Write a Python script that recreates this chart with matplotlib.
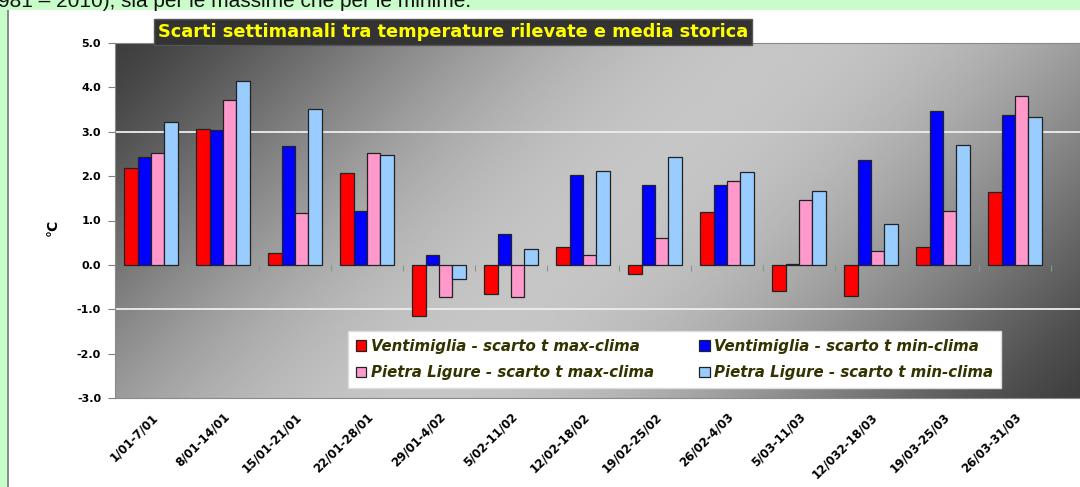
import numpy as np
import matplotlib.pyplot as plt
from matplotlib.colors import LinearSegmentedColormap
from matplotlib.patches import Rectangle

# weekly periods
weeks = ["1/01-7/01", "8/01-14/01", "15/01-21/01", "22/01-28/01", "29/01-4/02",
         "5/02-11/02", "12/02-18/02", "19/02-25/02", "26/02-4/03", "5/03-11/03",
         "12/032-18/03", "19/03-25/03", "26/03-31/03"]

# deviations from climate (°C)
vent_max = [2.19, 3.06, 0.26, 2.07, -1.16, -0.66, 0.40, -0.20, 1.19, -0.58, -0.71, 0.40, 1.64]
vent_min = [2.42, 3.03, 2.69, 1.22, 0.23, 0.69, 2.02, 1.79, 1.79, 0.03, 2.36, 3.46, 3.38]
pl_max = [2.53, 3.72, 1.16, 2.51, -0.72, -0.72, 0.23, 0.61, 1.88, 1.47, 0.32, 1.22, 3.80]
pl_min = [3.22, 4.15, 3.52, 2.48, -0.32, 0.35, 2.12, 2.43, 2.10, 1.67, 0.92, 2.71, 3.34]

series_names = ["Ventimiglia - scarto t max-clima", "Ventimiglia - scarto t min-clima",
                "Pietra Ligure - scarto t max-clima", "Pietra Ligure - scarto t min-clima"]
series_colors = ["#ff0000", "#0000ff", "#ff99cc", "#99ccff"]

yticks = [-3, -2, -1, 0, 1, 2, 3, 4, 5]
grid_levels = [3.0, -1.0]

W, H = 1080, 487
fig = plt.figure(figsize=(W / 100, H / 100), dpi=100)
fig.patch.set_facecolor("white")

# page decoration: green band on top and left, grey rule
fig.patches.append(Rectangle((0, 1 - 10 / H), 1, 10 / H, transform=fig.transFigure,
                             facecolor="#c8fcc8", edgecolor="none", zorder=0))
fig.patches.append(Rectangle((0, 0), 7 / W, 1, transform=fig.transFigure,
                             facecolor="#c8fcc8", edgecolor="none", zorder=0))
fig.patches.append(Rectangle((7 / W, 0), 2 / W, 1 - 10 / H, transform=fig.transFigure,
                             facecolor="#8c8c8c", edgecolor="none", zorder=1))
fig.text(-2 / W, 1 - 7 / H, "981 \u2013 2010), sia per le massime che per le minime.",
         family="Liberation Sans", fontsize=15, color="#111111", va="baseline", ha="left")

ax = fig.add_axes([115 / W, 1 - 398 / H, (1090 - 115) / W, (398 - 43) / H])

# gradient plot background
gw, gh = 400, 150
xx, yy = np.meshgrid(np.linspace(0, 1, gw), np.linspace(0, 1, gh))
t = (xx * 975 + yy * 355) / (975 + 355)
v = np.sin(np.pi * t) ** 1.3
cmap = LinearSegmentedColormap.from_list("bg", ["#3e3e3e", "#c6c6c6"])
ax.imshow(v, cmap=cmap, extent=(0, 1, 0, 1), transform=ax.transAxes,
          aspect="auto", origin="upper", zorder=0, interpolation="bicubic")

x = np.arange(1, len(weeks) + 1)
bw = 0.185
bars = []
for i, (vals, c, name) in enumerate(zip([vent_max, vent_min, pl_max, pl_min], series_colors, series_names)):
    b = ax.bar(x + (i - 1.5) * bw, vals, bw, color=c, edgecolor="#222222", linewidth=0.9,
               label=name, zorder=3)
    bars.append(b)

for g in grid_levels:
    ax.axhline(g, color="#eeeeee", lw=1.3, zorder=1)

ax.set_xlim(0.5, 0.5 + 975 / 72)
ax.set_ylim(-3, 5)
ax.set_yticks(yticks)
ax.set_yticklabels(["%.1f" % v for v in yticks], fontweight="bold", fontsize=8)
ax.tick_params(axis="y", length=5, color="#808080", pad=5)
ax.set_xticks(x)
ax.set_xticklabels(weeks, rotation=45, ha="right", rotation_mode="anchor",
                   fontweight="bold", fontsize=8.5)
ax.tick_params(axis="x", length=0, pad=9)
for s in ax.spines.values():
    s.set_color("#8a8a8a")

# category ticks along the zero line
sec = ax.secondary_xaxis(3 / 8)
sec.set_xticks(np.arange(0.5, len(weeks) + 1, 1))
sec.set_xticklabels([])
sec.tick_params(length=4, color="#909090", direction="out")
sec.spines["bottom"].set_visible(False)

fig.text(53 / W, 1 - 227 / H, "\u00b0C", rotation=90, fontweight="bold", fontsize=10,
         ha="center", va="center")

fig.text(453 / W, 1 - 32 / H, "Scarti settimanali tra temperature rilevate e media storica",
         color="#ffff00", fontweight="bold", fontsize=12.8, ha="center", va="center",
         bbox=dict(boxstyle="square,pad=0.2", facecolor="#333333", edgecolor="#555555"),
         zorder=10)

# legend filled row by row like the original
order = [0, 2, 1, 3]
leg = ax.legend([bars[k] for k in order], [series_names[k] for k in order],
                ncol=2, loc="center", bbox_to_anchor=(674.5 / W, 1 - 359.5 / H),
                bbox_transform=fig.transFigure, frameon=True, fancybox=False,
                prop=dict(style="italic", weight="bold", size=10.8),
                handlelength=0.7, handleheight=0.7, handletextpad=0.3,
                columnspacing=3.0, labelspacing=0.75, borderpad=0.55)
leg.get_frame().set_facecolor("white")
leg.get_frame().set_edgecolor("#dddddd")
leg.get_frame().set_alpha(1)
for txt in leg.get_texts():
    txt.set_color("#333300")

fig.savefig("out.png", dpi=100)
